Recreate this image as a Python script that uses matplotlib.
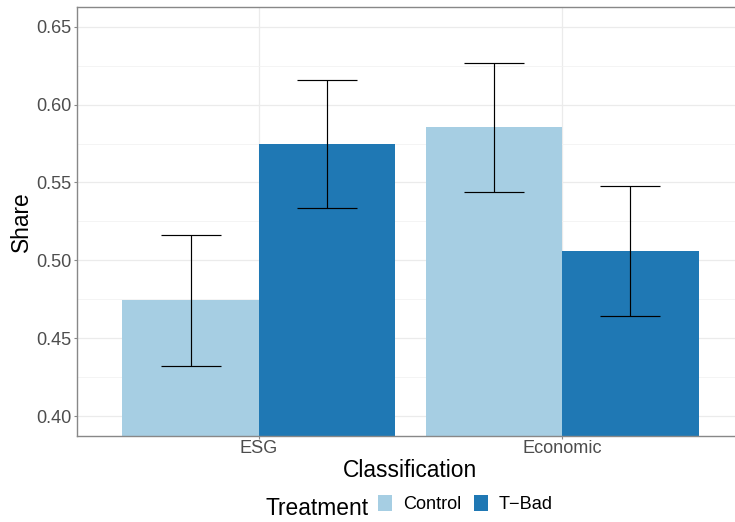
import numpy as np
import matplotlib
matplotlib.use("Agg")
from matplotlib import pyplot as plt
from matplotlib.patches import Patch

# Data
classifications = ["ESG", "Economic"]
treatments = ["Control", "T\u2212Bad"]
control_share = [0.4747, 0.5854]
control_lo = [0.4323, 0.5441]
control_hi = [0.5161, 0.6267]
tbad_share = [0.5747, 0.5060]
tbad_lo = [0.5336, 0.4644]
tbad_hi = [0.6160, 0.5477]
y_ticks = [0.40, 0.45, 0.50, 0.55, 0.60, 0.65]
y_minor = [0.375, 0.425, 0.475, 0.525, 0.575, 0.625]

colors = ["#A6CEE3", "#1F78B4"]
grey_axis = "#888888"
grey_text = "#4D4D4D"

plt.rcParams['font.family'] = ['Liberation Sans', 'DejaVu Sans']

W, H = 735, 522
fig = plt.figure(figsize=(W / 100, H / 100), dpi=100)
# panel runs past the right edge, as in the reference
ax = fig.add_axes([77 / W, (H - 436) / H, (744 - 77) / W, (436 - 7.3) / H])
ax.patch.set_visible(False)

x = np.arange(1, len(classifications) + 1)
bw = 0.45
series = [(control_share, control_lo, control_hi), (tbad_share, tbad_lo, tbad_hi)]
for i, (vals, lo, hi) in enumerate(series):
    xpos = x + (i - 0.5) * bw
    vals = np.array(vals)
    ax.bar(xpos, vals, width=bw, color=colors[i], zorder=2, linewidth=0)
    yerr = np.vstack([vals - np.array(lo), np.array(hi) - vals])
    ax.errorbar(xpos, vals, yerr=yerr, fmt='none', ecolor='black',
                elinewidth=0.85, capsize=21.6, capthick=0.85, zorder=3)

ax.set_xticks(x)
ax.set_xticklabels(classifications)
ax.set_yticks(y_ticks)
ax.set_yticklabels(["%.2f" % t for t in y_ticks])
ax.set_yticks(y_minor, minor=True)
# limits after ticks so they are not widened
ax.set_xlim(0.4, 2.6)
ax.set_ylim(0.3872, 0.6625)
ax.tick_params(axis='both', which='major', labelsize=13.1, labelcolor=grey_text,
               color=grey_axis, length=2.2, width=0.8)
ax.tick_params(axis='y', which='major', pad=1.7)
ax.tick_params(axis='x', which='major', pad=0.5)
ax.tick_params(which='minor', length=0)

# Grid
ax.grid(True, which='major', color='#EBEBEB', linewidth=0.9, zorder=0)
ax.grid(True, which='minor', axis='y', color='#F2F2F2', linewidth=0.6, zorder=0)
ax.set_axisbelow(True)

for side in ['left', 'bottom', 'top']:
    ax.spines[side].set_color(grey_axis)
    ax.spines[side].set_linewidth(1.0)
    ax.spines[side].set_zorder(4)
ax.spines['right'].set_visible(False)

# Axis titles
fig.text(21 / W, 1 - 221.5 / H, "Share", rotation=90, ha='center', va='center',
         fontsize=16.4, color='black')
fig.text(410 / W, 1 - 477 / H, "Classification", ha='center', va='baseline',
         fontsize=16.4, color='black')

# Legend at the bottom, title on the left
fig.text(265 / W, 1 - 515 / H, "Treatment", ha='left', va='baseline',
         fontsize=16.4, color='black')
handles = [Patch(facecolor=c, edgecolor='none') for c in colors]
fig.legend(handles, treatments, loc='center left', bbox_to_anchor=(377.7 / W, 1 - 504 / H),
           ncol=2, frameon=False, fontsize=13.1, handlelength=0.77, handleheight=1.0,
           handletextpad=0.62, columnspacing=0.68, borderpad=0, borderaxespad=0)

fig.savefig("out.png", dpi=100)
